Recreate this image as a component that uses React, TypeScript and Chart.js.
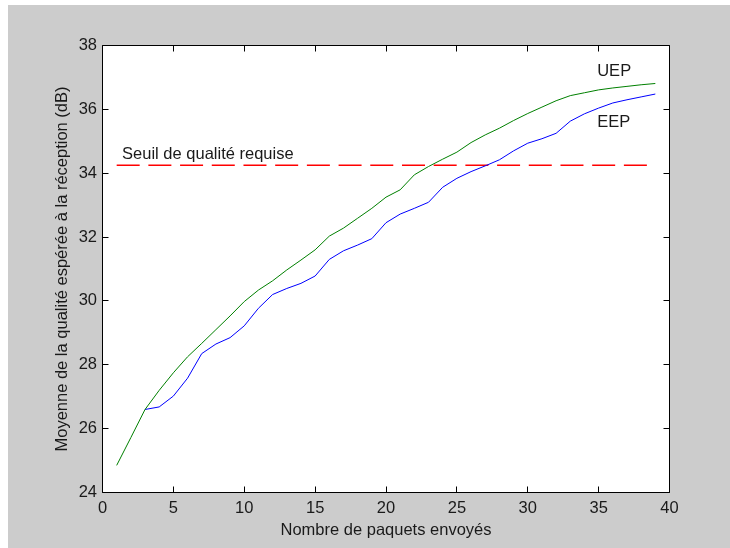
import React, { useEffect, useRef } from "react";
import { Chart, registerables } from "chart.js";

Chart.register(...registerables);

// ---- data ----
const packets = [
  1, 2, 3, 4, 5, 6, 7, 8, 9, 10, 11, 12, 13, 14, 15, 16, 17, 18, 19, 20,
  21, 22, 23, 24, 25, 26, 27, 28, 29, 30, 31, 32, 33, 34, 35, 36, 37, 38, 39,
];
const uep = [
  24.85, 25.72, 26.6, 27.2, 27.75, 28.25, 28.67, 29.1, 29.53, 29.98,
  30.34, 30.63, 30.97, 31.28, 31.6, 32.03, 32.28, 32.59, 32.9, 33.25,
  33.48, 33.95, 34.21, 34.44, 34.66, 34.96, 35.2, 35.41, 35.65, 35.87,
  36.07, 36.27, 36.43, 36.52, 36.61, 36.67, 36.72, 36.77, 36.81,
];
const eep = [
  null, null, 26.6, 26.68, 27.02, 27.58, 28.35, 28.65, 28.85, 29.22,
  29.77, 30.2, 30.39, 30.55, 30.78, 31.3, 31.57, 31.75, 31.95, 32.45,
  32.72, 32.9, 33.09, 33.56, 33.84, 34.05, 34.23, 34.42, 34.7, 34.94,
  35.08, 35.25, 35.63, 35.86, 36.04, 36.2, 36.3, 36.39, 36.48,
];
const thresholdValue = 34.25;
const thresholdRange = [1, 39];

const xMin = 0;
const xMax = 40;
const xStep = 5;
const yMin = 24;
const yMax = 38;
const yStep = 2;

const xTitle = "Nombre de paquets envoyés";
const yTitle = "Moyenne de la qualité espérée à la réception (dB)";

const annotationTexts = ["Seuil de qualité requise", "UEP", "EEP"];
const annotationX = [1.38, 34.9, 34.9];
const annotationY = [34.45, 37.03, 35.44];

// ---- styles ----
const FONT_FAMILY = '"Liberation Sans", Arial, Helvetica, sans-serif';
const FONT_SIZE = 16.5;
const TEXT_COLOR = "#1a1a1a";

const framePlugin = {
  id: "matlabFrame",
  beforeDraw(chart: any) {
    const { ctx, chartArea } = chart;
    ctx.save();
    ctx.fillStyle = "#ffffff";
    ctx.fillRect(
      chartArea.left,
      chartArea.top,
      chartArea.right - chartArea.left,
      chartArea.bottom - chartArea.top
    );
    ctx.restore();
  },
  afterDatasetsDraw(chart: any) {
    const { ctx } = chart;
    const xs = chart.scales.x;
    const ys = chart.scales.y;
    ctx.save();
    ctx.fillStyle = TEXT_COLOR;
    ctx.font = `${FONT_SIZE}px ${FONT_FAMILY}`;
    ctx.textAlign = "left";
    ctx.textBaseline = "alphabetic";
    annotationTexts.forEach((t, i) => {
      ctx.fillText(
        t,
        xs.getPixelForValue(annotationX[i]),
        ys.getPixelForValue(annotationY[i])
      );
    });
    ctx.restore();
  },
  afterDraw(chart: any) {
    const { ctx, chartArea } = chart;
    const xs = chart.scales.x;
    const ys = chart.scales.y;
    const L = chartArea.left;
    const R = chartArea.right;
    const T = chartArea.top;
    const B = chartArea.bottom;
    const tl = 6;
    const crisp = (v: number) => Math.floor(v) + 0.5;
    ctx.save();
    ctx.strokeStyle = "#000000";
    ctx.lineWidth = 1;
    ctx.beginPath();
    ctx.rect(L, T, R - L, B - T);
    xs.ticks.forEach((t: any) => {
      const px = crisp(xs.getPixelForValue(t.value));
      ctx.moveTo(px, B);
      ctx.lineTo(px, B - tl);
      ctx.moveTo(px, T);
      ctx.lineTo(px, T + tl);
    });
    ys.ticks.forEach((t: any) => {
      const py = crisp(ys.getPixelForValue(t.value));
      ctx.moveTo(L, py);
      ctx.lineTo(L + tl, py);
      ctx.moveTo(R, py);
      ctx.lineTo(R - tl, py);
    });
    ctx.stroke();
    ctx.restore();
  },
};

export default function App() {
  const canvasRef = useRef<HTMLCanvasElement | null>(null);

  useEffect(() => {
    if (!canvasRef.current) return;
    const font = { family: FONT_FAMILY, size: FONT_SIZE };
    const chart = new Chart(canvasRef.current, {
      type: "line",
      data: {
        datasets: [
          {
            label: "UEP",
            data: packets.map((x, i) => ({ x, y: uep[i] })),
            borderColor: "#008000",
            borderWidth: 1,
            pointRadius: 0,
            fill: false,
            tension: 0,
          },
          {
            label: "EEP",
            data: packets
              .map((x, i) => ({ x, y: eep[i] }))
              .filter((p) => p.y !== null),
            borderColor: "#0000ff",
            borderWidth: 1,
            pointRadius: 0,
            fill: false,
            tension: 0,
          },
          {
            label: "Seuil de qualité requise",
            data: thresholdRange.map((x) => ({ x, y: thresholdValue })),
            borderColor: "#ff0000",
            borderWidth: 1.6,
            borderDash: [23, 8.7],
            pointRadius: 0,
            fill: false,
          },
        ],
      },
      options: {
        animation: false,
        responsive: false,
        maintainAspectRatio: false,
        layout: { padding: { left: 0, top: 40.5, right: 60.5, bottom: 0 } },
        plugins: {
          legend: { display: false },
          tooltip: { enabled: false },
        },
        scales: {
          x: {
            type: "linear",
            min: xMin,
            max: xMax,
            grid: { display: false, drawTicks: false },
            border: { display: false },
            ticks: {
              stepSize: xStep,
              autoSkip: false,
              maxRotation: 0,
              minRotation: 0,
              padding: 6,
              color: TEXT_COLOR,
              font,
            },
            title: {
              display: true,
              text: xTitle,
              color: TEXT_COLOR,
              font,
              padding: { top: 0, bottom: 8 },
            },
            afterFit: (scale: any) => {
              scale.height = 55.5;
            },
          },
          y: {
            type: "linear",
            min: yMin,
            max: yMax,
            grid: { display: false, drawTicks: false },
            border: { display: false },
            ticks: {
              stepSize: yStep,
              autoSkip: false,
              padding: 5.5,
              color: TEXT_COLOR,
              font,
            },
            title: {
              display: true,
              text: yTitle,
              color: TEXT_COLOR,
              font,
              padding: { top: 44.5, bottom: 0 },
            },
            afterFit: (scale: any) => {
              scale.width = 94.5;
            },
          },
        },
      },
      plugins: [framePlugin],
    } as any);
    return () => chart.destroy();
  }, []);

  return (
    <div
      style={{
        position: "absolute",
        left: 8,
        top: 5,
        width: 722,
        height: 543,
        background: "#cccccc",
      }}
    >
      <canvas
        ref={canvasRef}
        width={722}
        height={543}
        style={{ display: "block", width: 722, height: 543 }}
      />
    </div>
  );
}
